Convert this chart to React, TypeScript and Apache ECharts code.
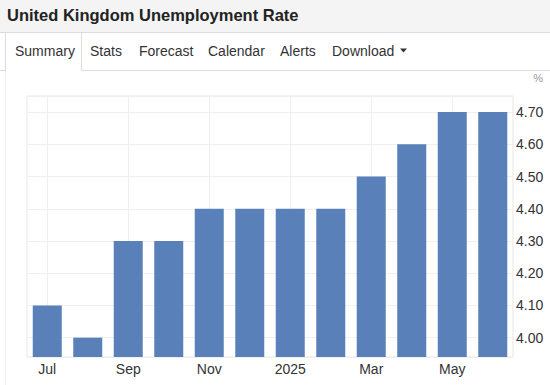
import React, { useEffect, useRef } from "react";
import * as echarts from "echarts";

const chartTitle = "United Kingdom Unemployment Rate";
const tabLabels = ["Summary", "Stats", "Forecast", "Calendar", "Alerts", "Download"];
const categories = ["Jul", "Aug", "Sep", "Oct", "Nov", "Dec", "2025", "Feb", "Mar", "Apr", "May", "Jun"];
const rateValues = [4.1, 4.0, 4.3, 4.3, 4.4, 4.4, 4.4, 4.4, 4.5, 4.6, 4.7, 4.7];
const unitLabel = "%";

const FONT = "'Liberation Sans', Arial, Helvetica, sans-serif";

export default function App() {
  const ref = useRef<HTMLDivElement>(null);

  useEffect(() => {
    if (!ref.current) return;
    const chart = echarts.init(ref.current, null, { renderer: "svg" });
    const tabX = [15, 90, 139, 208, 280, 332];
    const gridLineCats = categories.filter((_, i) => i % 2 === 0);

    chart.setOption({
      animation: false,
      backgroundColor: "#ffffff",
      textStyle: { fontFamily: FONT },
      grid: { left: 27, top: 96, width: 486, height: 261, show: true, borderColor: "#e6e6e6", borderWidth: 1, containLabel: false },
      xAxis: {
        type: "category",
        data: categories,
        boundaryGap: true,
        axisLine: { show: false },
        axisTick: { show: false },
        splitLine: { show: false },
        axisLabel: { interval: 1, color: "#333", fontSize: 14, margin: 5, fontFamily: FONT },
      },
      yAxis: {
        type: "value",
        position: "right",
        min: 3.94,
        max: 4.75,
        splitNumber: 8,
        axisLine: { show: false },
        axisTick: { show: false },
        splitLine: { show: true, lineStyle: { color: "#efefef", width: 1 } },
        axisLabel: {
          color: "#333",
          fontSize: 14,
          margin: 3,
          fontFamily: FONT,
          showMinLabel: false,
          showMaxLabel: false,
          formatter: (v: number) => v.toFixed(2),
        },
      },
      series: [
        {
          type: "line",
          data: [],
          z: 1,
          silent: true,
          markLine: {
            z: 0,
            silent: true,
            symbol: "none",
            label: { show: false },
            lineStyle: { color: "#efefef", width: 1, type: "solid" },
            data: gridLineCats.map((c) => ({ xAxis: c })),
          },
        },
        {
          type: "bar",
          z: 3,
          data: rateValues,
          barWidth: 29,
          itemStyle: { color: "#5a80b9" },
        },
      ],
      graphic: [
        { type: "rect", shape: { x: 0, y: 0, width: 550, height: 32 }, style: { fill: "#f4f4f4" }, silent: true },
        { type: "line", shape: { x1: 0, y1: 32.5, x2: 550, y2: 32.5 }, style: { stroke: "#dcdcdc", lineWidth: 1 }, silent: true },
        {
          type: "polyline",
          shape: { points: [[5.5, 71], [5.5, 32.5], [81.5, 32.5], [81.5, 71]] },
          style: { stroke: "#dcdcdc", fill: "#ffffff", lineWidth: 1 },
          silent: true,
        },
        { type: "line", shape: { x1: 0, y1: 70.5, x2: 5.5, y2: 70.5 }, style: { stroke: "#dcdcdc", lineWidth: 1 }, silent: true },
        { type: "line", shape: { x1: 81.5, y1: 70.5, x2: 550, y2: 70.5 }, style: { stroke: "#dcdcdc", lineWidth: 1 }, silent: true },
        { type: "line", shape: { x1: 5.5, y1: 71, x2: 5.5, y2: 385 }, style: { stroke: "#f0f0f0", lineWidth: 1 }, silent: true },
        {
          type: "text",
          x: 7,
          y: 15,
          style: { text: chartTitle, fill: "#222", font: `bold 16.5px ${FONT}`, verticalAlign: "middle" },
          silent: true,
        },
        ...tabLabels.map((t, i) => ({
          type: "text",
          x: tabX[i],
          y: 51,
          style: { text: t, fill: "#333", font: `14px ${FONT}`, verticalAlign: "middle" },
          silent: true,
        })),
        {
          type: "polygon",
          shape: { points: [[400, 48.5], [407, 48.5], [403.5, 52.5]] },
          style: { fill: "#333" },
          silent: true,
        },
        {
          type: "text",
          x: 543,
          y: 78,
          style: { text: unitLabel, fill: "#999", font: `11px ${FONT}`, align: "right", verticalAlign: "middle" },
          silent: true,
        },
      ],
    });
    return () => chart.dispose();
  }, []);

  return (
    <div
      ref={ref}
      style={{ position: "fixed", left: 0, top: 0, width: 550, height: 385, background: "#fff" }}
    />
  );
}
